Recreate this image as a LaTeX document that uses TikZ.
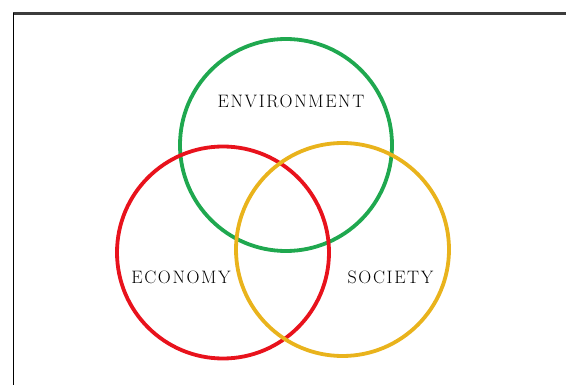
\documentclass[tikz,border=0pt]{standalone}
\usepackage{fontspec}
\setmainfont{Latin Modern Roman}[LetterSpace=9]
\definecolor{cgreen}{HTML}{1FA84F}
\definecolor{cred}{HTML}{E8121C}
\definecolor{cgold}{HTML}{E9B31C}
\definecolor{frame}{HTML}{3C3C3C}
\begin{document}
\begin{tikzpicture}[x=1pt,y=-1pt,
  ring/.style={line width=3.8pt},
  lbl/.style={font=\fontsize{18}{18}\selectfont, inner sep=0pt, text=black}]
\useasboundingbox (0,0) rectangle (566,385);
\draw[frame, line width=3pt] (13,14) -- (566,14);
\draw[black, line width=1.5pt] (13.5,13) -- (13.5,385);
\node[ring, draw=cgreen, circle, minimum size=212pt, inner sep=0pt] (env) at (286,145) {};
\node[ring, draw=cred, circle, minimum size=212pt, inner sep=0pt] (eco) at (223,252.5) {};
\node[ring, draw=cgold, circle, minimum size=213pt, inner sep=0pt] (soc) at (342.5,249.5) {};
\node[lbl] (tenv) at (291,101) {ENVIRONMENT};
\node[lbl] (teco) at (181,277) {ECONOMY};
\node[lbl] (tsoc) at (390.5,277) {SOCIETY};
\end{tikzpicture}
\end{document}
